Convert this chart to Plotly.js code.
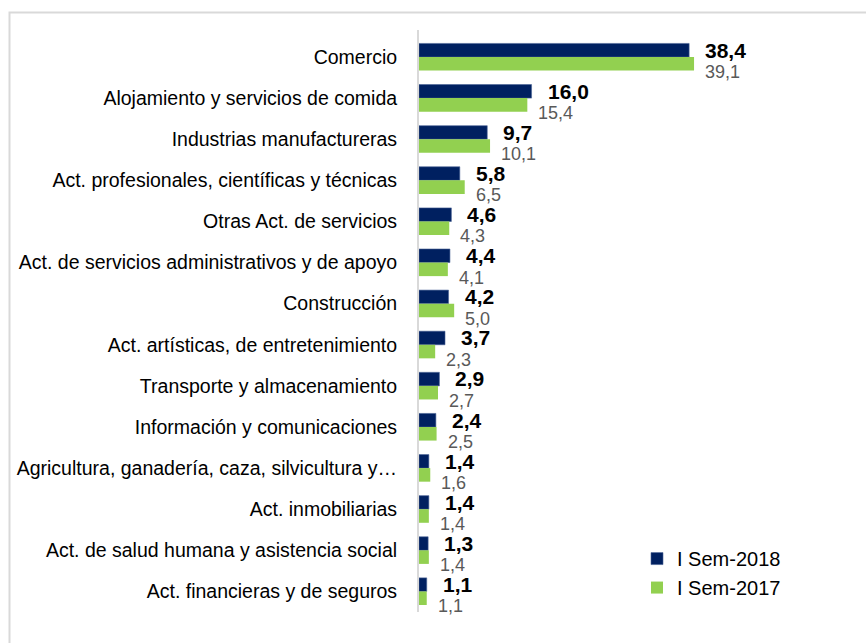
<!DOCTYPE html>
<html>
<head>
<meta charset="utf-8">
<script src="https://cdn.plot.ly/plotly-3.0.1.min.js"></script>
<style>
  html, body { margin: 0; padding: 0; background: #ffffff; overflow: hidden; }
  #chart { width: 866px; height: 643px; }
</style>
</head>
<body>
<div id="chart"></div>
<script>
// ---- Data ----
const categories = [
  "Comercio",
  "Alojamiento y servicios de comida",
  "Industrias manufactureras",
  "Act. profesionales, científicas y técnicas",
  "Otras Act. de servicios",
  "Act. de servicios administrativos y de apoyo",
  "Construcción",
  "Act. artísticas, de entretenimiento",
  "Transporte y almacenamiento",
  "Información y comunicaciones",
  "Agricultura, ganadería, caza, silvicultura y…",
  "Act. inmobiliarias",
  "Act. de salud humana y asistencia social",
  "Act. financieras y de seguros"
];
const sem2018 = [38.4, 16.0, 9.7, 5.8, 4.6, 4.4, 4.2, 3.7, 2.9, 2.4, 1.4, 1.4, 1.3, 1.1];
const sem2017 = [39.1, 15.4, 10.1, 6.5, 4.3, 4.1, 5.0, 2.3, 2.7, 2.5, 1.6, 1.4, 1.4, 1.1];
const seriesNames = ["I Sem-2018", "I Sem-2017"];

// ---- Styling ----
const NAVY = "#002060";
const GREEN = "#92D050";
const fmt = v => v.toFixed(1).replace(".", ",");
const SANS = "'Liberation Sans', Arial, sans-serif";

const traces = [
  {
    type: "bar", orientation: "h", name: seriesNames[0],
    y: categories, x: sem2018,
    marker: { color: NAVY, line: { color: "#4a6396", width: 0.6 } },
    hoverinfo: "skip"
  },
  {
    type: "bar", orientation: "h", name: seriesNames[1],
    y: categories, x: sem2017,
    marker: { color: GREEN },
    hoverinfo: "skip"
  }
];

const annotations = [];
categories.forEach((c, i) => {
  annotations.push({
    x: sem2018[i], y: c, xref: "x", yref: "y",
    text: "<b>" + fmt(sem2018[i]) + "</b>",
    showarrow: false, xanchor: "left", yanchor: "middle",
    xshift: 14, yshift: 7,
    font: { family: SANS, size: 21, color: "#000000" }
  });
  annotations.push({
    x: sem2017[i], y: c, xref: "x", yref: "y",
    text: fmt(sem2017[i]),
    showarrow: false, xanchor: "left", yanchor: "middle",
    xshift: 9, yshift: -15,
    font: { family: SANS, size: 18, color: "#595959" }
  });
});

const L = 419, R = 20, T = 29.5, B = 31;
const PW = 866 - L - R, PH = 643 - T - B;
const px2x = p => (p - L) / PW;
const py2y = p => (643 - B - p) / PH;

const layout = {
  width: 866, height: 643,
  margin: { l: L, r: R, t: T, b: B, pad: 0 },
  paper_bgcolor: "#ffffff", plot_bgcolor: "#ffffff",
  barmode: "group", bargap: 0.34, bargroupgap: 0,
  showlegend: true,
  legend: {
    x: px2x(637), y: py2y(539), xanchor: "left", yanchor: "top",
    bgcolor: "rgba(0,0,0,0)",
    font: { family: SANS, size: 20, color: "#000000" },
    tracegroupgap: 0
  },
  xaxis: {
    range: [0, 60.7], visible: false, showgrid: false, zeroline: false, fixedrange: true
  },
  yaxis: {
    autorange: "reversed", type: "category",
    showline: true, linecolor: "#d9d9d9", linewidth: 2,
    ticks: "", ticklen: 0, showgrid: false, zeroline: false,
    ticklabelstandoff: 16,
    tickfont: { family: SANS, size: 19.5, color: "#000000" },
    automargin: false, fixedrange: true
  },
  annotations: annotations,
  shapes: [{
    type: "rect", xref: "paper", yref: "paper",
    x0: px2x(9.5), x1: px2x(920), y0: py2y(720), y1: py2y(12),
    line: { color: "#d9d9d9", width: 2 }, fillcolor: "rgba(0,0,0,0)", layer: "below"
  }]
};

Plotly.newPlot("chart", traces, layout, { staticPlot: true, displayModeBar: false });
</script>
</body>
</html>
